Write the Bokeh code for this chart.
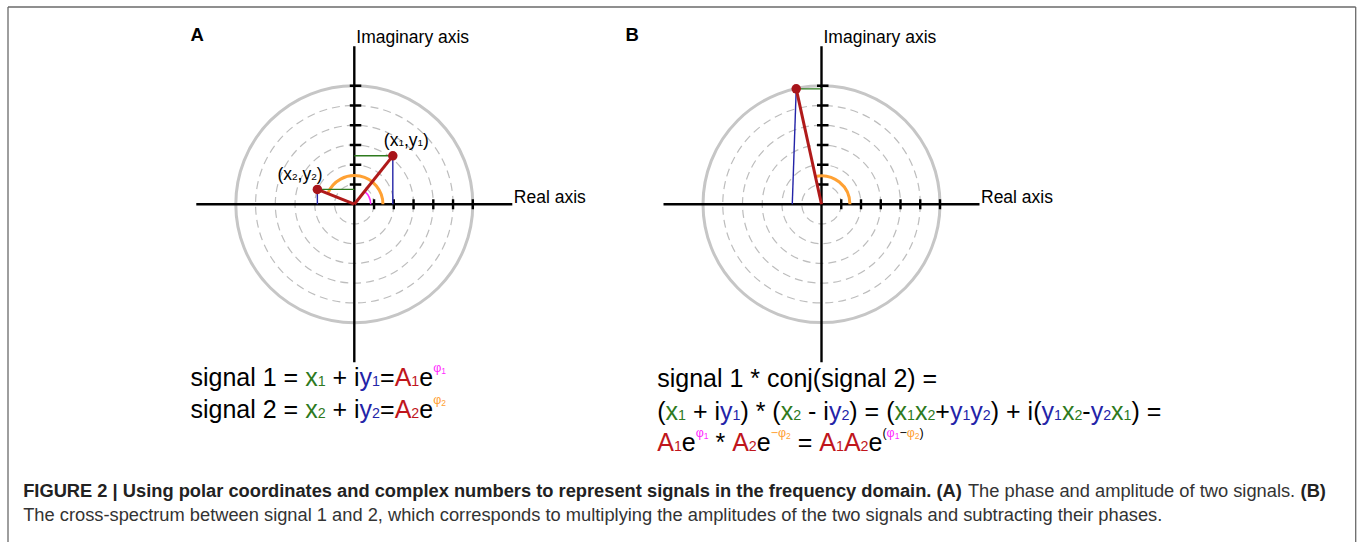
import math
from bokeh.plotting import figure
from bokeh.models import Range1d, ColumnDataSource
from bokeh.core.properties import value, field
from bokeh.embed import file_html
from bokeh.resources import INLINE

# ---------------- data (polar units = ring spacing) ----------------
ring_levels = [1, 2, 3, 4, 5]          # dashed rings
outer_level = [6]                      # solid outer ring
tick_levels = [1, 2, 3, 4, 5, 6]       # ticks on positive real / imaginary axes
axis_extent = 8

# Panel A: two signals
sig_re = [1.95, -1.87]
sig_im = [2.45, 0.75]
phase_arc_radius = [0.83, 1.45]        # phi1 (magenta), phi2 (orange)

# Panel B: cross-spectrum
cross_re = [-1.28]
cross_im = [5.84]
cross_proj_foot = [-1.48]              # foot of the blue projection on the real axis
cross_arc_radius = [1.44]

panel_letters = ["A", "B"]

# ---------------- layout ----------------
W, H = 1357, 542
S = 19.75                               # px per polar unit
CENTERS = [(353.8, 203.7), (821.0, 203.7)]   # page px of the two origins

FONT = "Liberation Sans"
GREEN = "#2e7a1e"
BLUE = "#2424a8"
RED = "#c0161c"
MAG = "#ff2bff"
ORANGE = "#ffa133"
LINE_RED = "#b01a1a"
BASE_FIX = 0.375   # renderer places the alphabetic baseline this fraction of the size lower

def Y(page_y):
    return H - page_y

def TY(base, size):
    return Y(base) + BASE_FIX * size

p = figure(width=W, height=H, output_backend="svg", toolbar_location=None,
           x_range=Range1d(0, W), y_range=Range1d(0, H),
           x_axis_location=None, y_axis_location=None, min_border=0,
           outline_line_color=None, background_fill_color="white",
           border_fill_color="white")
p.grid.grid_line_color = None

# figure frame (left, top, right)
p.multi_line(xs=[[7.5, 7.5], [7.5, 1355.2], [1355.2, 1355.2]],
             ys=[[0, Y(6.5)], [Y(6.5), Y(6.5)], [Y(6.5), 0]],
             line_color="#6a6a6a", line_width=1.3)

def to_xy(c, re, im):
    cx, cy = c
    return cx + S * re, Y(cy) + S * im

for c in CENTERS:
    ox, oy = to_xy(c, 0, 0)
    p.circle(x=[ox] * len(ring_levels), y=[oy] * len(ring_levels),
             radius=[S * r for r in ring_levels], fill_color=None,
             line_color="#bdbdbd", line_width=1.2, line_dash="8 5")
    p.circle(x=[ox], y=[oy], radius=[S * r for r in outer_level], fill_color=None,
             line_color="#c6c6c6", line_width=3)
    p.segment(x0=[ox - S * axis_extent, ox], y0=[oy, oy - S * axis_extent],
              x1=[ox + S * axis_extent, ox], y1=[oy, oy + S * axis_extent],
              line_color="black", line_width=2.4)
    n = len(tick_levels)
    p.segment(x0=[ox + S * t for t in tick_levels], y0=[oy - 5] * n,
              x1=[ox + S * t for t in tick_levels], y1=[oy + 5] * n,
              line_color="black", line_width=2.4)
    p.segment(x0=[ox - 4.5] * n, y0=[oy + S * t for t in tick_levels],
              x1=[ox + 7] * n, y1=[oy + S * t for t in tick_levels],
              line_color="black", line_width=2.4)

# ---- panel A marks ----
cA = CENTERS[0]
oxA, oyA = to_xy(cA, 0, 0)
angA = [math.atan2(im, re) for re, im in zip(sig_re, sig_im)]
p.arc(x=[oxA], y=[oyA], radius=[S * phase_arc_radius[0]], start_angle=[0], end_angle=[angA[0]],
      line_color=MAG, line_width=1.6)
p.arc(x=[oxA], y=[oyA], radius=[S * phase_arc_radius[1]], start_angle=[0], end_angle=[angA[1]],
      line_color=ORANGE, line_width=3)
ptsA = [to_xy(cA, re, im) for re, im in zip(sig_re, sig_im)]
p.segment(x0=[q[0] for q in ptsA], y0=[q[1] for q in ptsA],
          x1=[oxA] * 2, y1=[q[1] for q in ptsA], line_color=GREEN, line_width=1.4)
p.segment(x0=[q[0] for q in ptsA], y0=[q[1] for q in ptsA],
          x1=[q[0] for q in ptsA], y1=[oyA] * 2, line_color=BLUE, line_width=1.4)
p.segment(x0=[oxA] * 2, y0=[oyA] * 2, x1=[q[0] for q in ptsA], y1=[q[1] for q in ptsA],
          line_color=LINE_RED, line_width=3)
p.scatter(x=[q[0] for q in ptsA], y=[q[1] for q in ptsA], size=9.5,
          fill_color="#a8141a", line_color=None)

# ---- panel B marks ----
cB = CENTERS[1]
oxB, oyB = to_xy(cB, 0, 0)
angB = [math.atan2(im, re) for re, im in zip(cross_re, cross_im)]
p.arc(x=[oxB], y=[oyB], radius=[S * cross_arc_radius[0]], start_angle=[0], end_angle=[angB[0]],
      line_color=ORANGE, line_width=3)
ptsB = [to_xy(cB, re, im) for re, im in zip(cross_re, cross_im)]
footB = [to_xy(cB, f, 0) for f in cross_proj_foot]
p.segment(x0=[q[0] for q in ptsB], y0=[q[1] for q in ptsB],
          x1=[oxB], y1=[q[1] for q in ptsB], line_color=GREEN, line_width=1.4)
p.segment(x0=[q[0] for q in ptsB], y0=[q[1] for q in ptsB],
          x1=[f[0] for f in footB], y1=[f[1] for f in footB], line_color=BLUE, line_width=1.4)
p.segment(x0=[oxB], y0=[oyB], x1=[q[0] for q in ptsB], y1=[q[1] for q in ptsB],
          line_color=LINE_RED, line_width=3)
p.scatter(x=[q[0] for q in ptsB], y=[q[1] for q in ptsB], size=9.5,
          fill_color="#a8141a", line_color=None)

# ---------------- rich text ----------------
REG = {' ': 278, '(': 333, ')': 333, '*': 389, '+': 584, ',': 278, '-': 333, '.': 278,
       '=': 584, 'A': 667, 'B': 667, 'I': 278, 'R': 722, 'T': 611, '|': 260,
       'a': 556, 'b': 556, 'c': 500, 'd': 556, 'e': 556, 'f': 278, 'g': 556, 'h': 556,
       'i': 222, 'j': 222, 'k': 500, 'l': 222, 'm': 833, 'n': 556, 'o': 556, 'p': 556,
       'q': 556, 'r': 333, 's': 500, 't': 278, 'u': 556, 'v': 500, 'w': 722, 'x': 500,
       'y': 500, 'z': 500, 'φ': 650, '−': 584}
BOLD = {' ': 278, '(': 333, ')': 333, '|': 280, '.': 278, ',': 278, 'A': 722, 'B': 722,
        'E': 667, 'F': 611, 'G': 778, 'I': 278, 'R': 722, 'U': 722,
        'a': 556, 'b': 611, 'c': 556, 'd': 611, 'e': 556, 'f': 333, 'g': 611, 'h': 611,
        'i': 278, 'l': 278, 'm': 889, 'n': 611, 'o': 611, 'p': 611, 'q': 611, 'r': 389,
        's': 556, 't': 333, 'u': 611, 'x': 556, 'y': 556}

def adv(text, bold=False):
    tbl = BOLD if bold else REG
    return sum(tbl.get(ch, 556) for ch in text) / 1000.0

KIND = {'n': (1.0, 0.0), 's': (0.57, 0.0), 'p': (0.5, 0.56), 'q': (0.34, 0.50)}
rx, ry, rt, rc, rs = [], [], [], [], []

def rich(runs, x0, base, F):
    x = x0
    for text, color, kind in runs:
        k, rise = KIND[kind]
        size = F * k
        lead = len(text) - len(text.lstrip(' '))
        body = text.strip(' ')
        xs = x + adv(' ' * lead) * size
        if body:
            rx.append(xs); ry.append(TY(base - rise * F, size)); rt.append(body)
            rc.append(color); rs.append("%.2fpx" % size)
        x += adv(text) * size

K = "black"
for c in CENTERS:
    rich([("Imaginary axis", K, 'n')], c[0] + 2, 43.5, 17.5)
    rich([("Real axis", K, 'n')], c[0] + 159.5, 203.3, 17.5)
rich([("(", K, 'n'), ("x", K, 'n'), ("1", K, 's'), (",", K, 'n'), ("y", K, 'n'),
      ("1", K, 's'), (")", K, 'n')], 383.3, 146, 17.5)
rich([("(", K, 'n'), ("x", K, 'n'), ("2", K, 's'), (",", K, 'n'), ("y", K, 'n'),
      ("2", K, 's'), (")", K, 'n')], 277.0, 180, 17.5)

FE = 25.0
rich([("signal 1 = ", K, 'n'), ("x", GREEN, 'n'), ("1", GREEN, 's'), (" + i", K, 'n'),
      ("y", BLUE, 'n'), ("1", BLUE, 's'), ("=", K, 'n'), ("A", RED, 'n'), ("1", RED, 's'),
      ("e", K, 'n'), ("φ", MAG, 'p'), ("1", MAG, 'q')], 190, 386, FE)
rich([("signal 2 = ", K, 'n'), ("x", GREEN, 'n'), ("2", GREEN, 's'), (" + i", K, 'n'),
      ("y", BLUE, 'n'), ("2", BLUE, 's'), ("=", K, 'n'), ("A", RED, 'n'), ("2", RED, 's'),
      ("e", K, 'n'), ("φ", ORANGE, 'p'), ("2", ORANGE, 'q')], 190, 418, FE)
rich([("signal 1 * conj(signal 2) =", K, 'n')], 656.7, 386.5, FE)
rich([("(", K, 'n'), ("x", GREEN, 'n'), ("1", GREEN, 's'), (" + i", K, 'n'),
      ("y", BLUE, 'n'), ("1", BLUE, 's'), (") * (", K, 'n'),
      ("x", GREEN, 'n'), ("2", GREEN, 's'), (" - i", K, 'n'), ("y", BLUE, 'n'), ("2", BLUE, 's'),
      (") = (", K, 'n'), ("x", GREEN, 'n'), ("1", GREEN, 's'), ("x", GREEN, 'n'), ("2", GREEN, 's'),
      ("+", K, 'n'), ("y", BLUE, 'n'), ("1", BLUE, 's'), ("y", BLUE, 'n'), ("2", BLUE, 's'),
      (") + i(", K, 'n'), ("y", BLUE, 'n'), ("1", BLUE, 's'), ("x", GREEN, 'n'), ("2", GREEN, 's'),
      ("-", K, 'n'), ("y", BLUE, 'n'), ("2", BLUE, 's'), ("x", GREEN, 'n'), ("1", GREEN, 's'),
      (") =", K, 'n')], 656.7, 420, FE)
rich([("A", RED, 'n'), ("1", RED, 's'), ("e", K, 'n'), ("φ", MAG, 'p'), ("1", MAG, 'q'),
      (" * ", K, 'n'), ("A", RED, 'n'), ("2", RED, 's'), ("e", K, 'n'), ("−φ", ORANGE, 'p'),
      ("2", ORANGE, 'q'), (" = ", K, 'n'), ("A", RED, 'n'), ("1", RED, 's'), ("A", RED, 'n'),
      ("2", RED, 's'), ("e", K, 'n'), ("(", K, 'p'), ("φ", MAG, 'p'), ("1", MAG, 'q'),
      ("−", K, 'p'), ("φ", ORANGE, 'p'), ("2", ORANGE, 'q'), (")", K, 'p')], 656.7, 451, FE)

src = ColumnDataSource(dict(x=rx, y=ry, text=rt, color=rc, size=rs))
p.text(x="x", y="y", text="text", source=src, text_color="color",
       text_font_size=field("size"), text_font=value(FONT),
       text_align="left", text_baseline="alphabetic")

# panel letters
FL = 18.5
p.text(x=[190, 625], y=[TY(41, FL)] * 2, text=panel_letters, text_font=value(FONT),
       text_font_style="bold", text_font_size="%.1fpx" % FL, text_color="black",
       text_align="left", text_baseline="alphabetic")

# caption
FC = 18.3
cap_bold = "FIGURE 2 | Using polar coordinates and complex numbers to represent signals in the frequency domain. (A)"
cap_reg = "The phase and amplitude of two signals."
cap_b = "(B)"
cap_line2 = ("The cross-spectrum between signal 1 and 2, which corresponds to multiplying "
             "the amplitudes of the two signals and subtracting their phases.")
x0 = 22.7
xm = x0 + adv(cap_bold + " ", True) * FC
xb = xm + adv(cap_reg + " ") * FC
p.text(x=[x0, xb], y=[TY(497, FC)] * 2, text=[cap_bold, cap_b], text_font=value(FONT),
       text_font_style="bold", text_font_size="%.1fpx" % FC, text_color="#222222",
       text_align="left", text_baseline="alphabetic")
p.text(x=[xm, x0], y=[TY(497, FC), TY(521, FC)], text=[cap_reg, cap_line2],
       text_font=value(FONT), text_font_size="%.1fpx" % FC, text_color="#333333",
       text_align="left", text_baseline="alphabetic")

open("out.html", "w").write(file_html(p, INLINE))
